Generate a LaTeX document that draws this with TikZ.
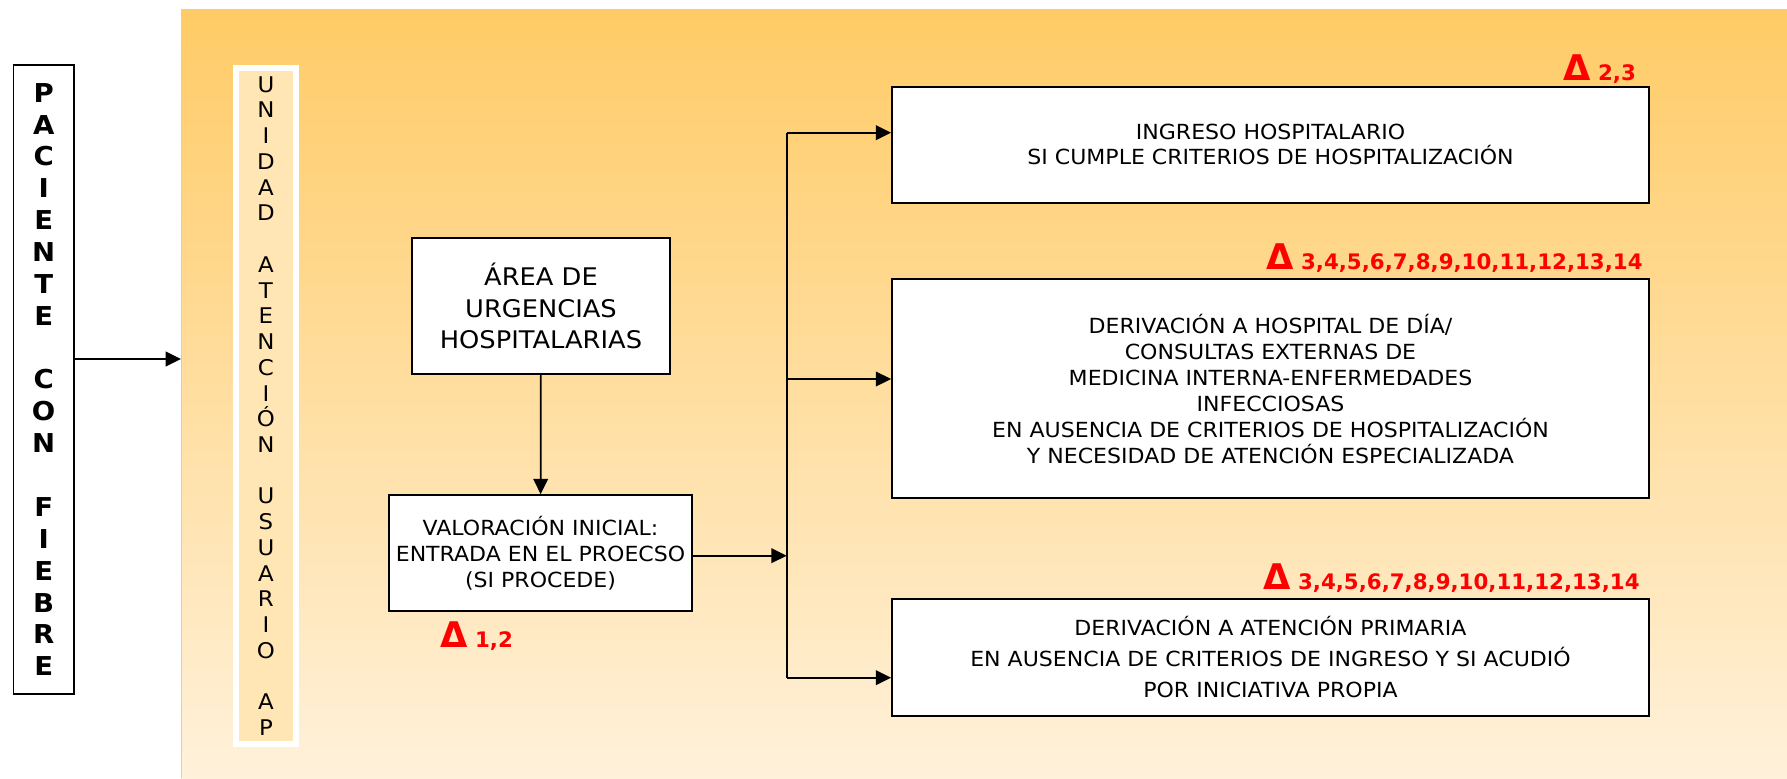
\documentclass[tikz,border=0pt]{standalone}
\usepackage{fontspec}
\setmainfont{DejaVu Sans}[FakeStretch=1.06]
\newfontfamily\fuenteDelta{DejaVu Sans}
\usepackage{tikz}
\usetikzlibrary{arrows.meta}

\definecolor{fondoArriba}{RGB}{255,203,102}
\definecolor{fondoAbajo}{RGB}{255,241,218}
\definecolor{columnaAP}{RGB}{255,230,180}
\definecolor{rojoDelta}{RGB}{255,0,0}

\tikzset{
  caja/.style={draw=black, line width=1.3pt, fill=white, align=center, inner sep=0pt},
  flecha/.style={line width=1.3pt, -{Triangle[length=11.5pt,width=11pt]}},
  delta/.style={text=rojoDelta, anchor=base west, inner sep=0pt, font=\fuenteDelta\bfseries},
}
\newcommand{\marcaDelta}[1]{{\fontsize{26.5}{26.5}\selectfont Δ}{\fontsize{16}{16}\selectfont\ #1}}

\begin{document}
\begin{tikzpicture}[x=0.75pt,y=0.75pt,yscale=-1,xscale=1]
\useasboundingbox (0,0) rectangle (1787,778);

%Shape: Rectangle (fondo)
\shade[top color=fondoArriba, bottom color=fondoAbajo] (181,9) rectangle (1787,778);
\draw[fondoArriba, line width=0.75pt] (181,778) -- (181,9) -- (1787,9);

%Shape: Rectangle (columnas)
\node[caja, minimum width=45.5pt, minimum height=471.75pt, font=\bfseries\fontsize{19.5}{23.9}\selectfont] (paciente) at (43.7,379.5)
  {P\\A\\C\\I\\E\\N\\T\\E\\~\\C\\O\\N\\~\\F\\I\\E\\B\\R\\E};
\node[draw=white, line width=4.5pt, fill=columnaAP, minimum width=45.2pt, minimum height=507pt, inner sep=0pt, align=center, font=\fontsize{16.2}{19.3}\selectfont] (unidad) at (265.9,406)
  {U\\N\\I\\D\\A\\D\\~\\A\\T\\E\\N\\C\\I\\Ó\\N\\~\\U\\S\\U\\A\\R\\I\\O\\~\\A\\P};

%Shape: Rectangle (cajas)
\node[caja, minimum width=193.5pt, minimum height=102pt, font=\fontsize{18.2}{23.8}\selectfont] (urgencias) at (541,306)
  {ÁREA DE\\URGENCIAS\\HOSPITALARIAS};
\node[caja, minimum width=227.25pt, minimum height=87pt, font=\fontsize{15.6}{19.5}\selectfont] (valoracion) at (540.5,553)
  {VALORACIÓN INICIAL:\\ENTRADA EN EL PROECSO\\(SI PROCEDE)};
\node[caja, minimum width=567.75pt, minimum height=87.2pt, font=\fontsize{15.6}{18.75}\selectfont] (ingreso) at (1270.5,144.85)
  {INGRESO HOSPITALARIO\\SI CUMPLE CRITERIOS DE HOSPITALIZACIÓN};
\node[caja, minimum width=567.75pt, minimum height=164.25pt, font=\fontsize{15.6}{19.5}\selectfont] (hospitalDia) at (1270.5,388.5)
  {DERIVACIÓN A HOSPITAL DE DÍA/\\CONSULTAS EXTERNAS DE\\MEDICINA INTERNA-ENFERMEDADES\\INFECCIOSAS\\EN AUSENCIA DE CRITERIOS DE HOSPITALIZACIÓN\\Y NECESIDAD DE ATENCIÓN ESPECIALIZADA};
\node[caja, minimum width=567.75pt, minimum height=87.5pt, font=\fontsize{15.6}{23.25}\selectfont] (primaria) at (1270.5,657.35)
  {DERIVACIÓN A ATENCIÓN PRIMARIA\\EN AUSENCIA DE CRITERIOS DE INGRESO Y SI ACUDIÓ\\POR INICIATIVA PROPIA};

%Coordinates
\coordinate (borde) at (181,359);
\coordinate (reparto) at (786.7,555.7);
\coordinate (ramaA) at (786.7,132.7);
\coordinate (ramaB) at (786.7,379);
\coordinate (ramaC) at (786.7,677.7);

%Straight Lines
\draw[flecha] (paciente.east |- borde) -- (borde);
\draw[flecha] (urgencias) -- (valoracion);
\draw[flecha] (valoracion.east |- reparto) -- (reparto);
\draw[line width=1.3pt] (ramaA) -- (ramaC);
\draw[flecha] (ramaA) -- (ramaA -| ingreso.west);
\draw[flecha] (ramaB) -- (ramaB -| hospitalDia.west);
\draw[flecha] (ramaC) -- (ramaC -| primaria.west);

% Text Node
\node[delta] (deltaIngreso) at (1563,80.7) {\marcaDelta{2,3}};
% Text Node
\node[delta] (deltaDia) at (1266,269.3) {\marcaDelta{3,4,5,6,7,8,9,10,11,12,13,14}};
% Text Node
\node[delta] (deltaPrimaria) at (1263,589) {\marcaDelta{3,4,5,6,7,8,9,10,11,12,13,14}};
% Text Node
\node[delta] (deltaValoracion) at (440,647) {\marcaDelta{1,2}};

\end{tikzpicture}
\end{document}
